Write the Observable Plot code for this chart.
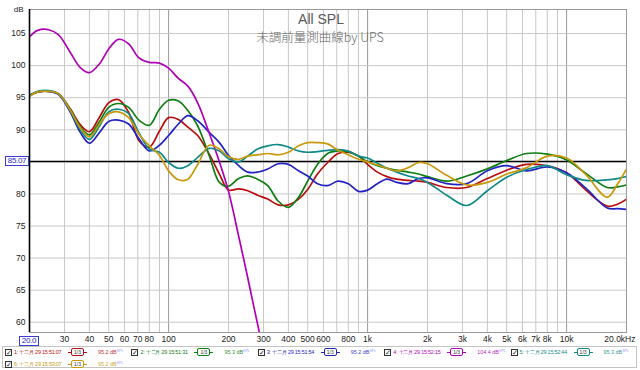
<!DOCTYPE html>
<html><head><meta charset="utf-8">
<script src="https://cdn.jsdelivr.net/npm/d3@7"></script>
<script src="https://cdn.jsdelivr.net/npm/@observablehq/plot@0.6"></script>
<style>
body{margin:0;background:#fff;font-family:"Liberation Sans",Arial,sans-serif;}
#wrap{position:relative;width:640px;height:370px;overflow:hidden;background:#fff;}
#wrap svg{position:absolute;left:0;top:0;}
.ov{position:absolute;box-sizing:border-box;font-family:"Liberation Sans",Arial,sans-serif;font-size:8px;letter-spacing:-0.3px;color:#2828c8;border:1px solid #3a3ad0;background:#fff;text-align:center;line-height:8px;white-space:nowrap;overflow:visible;}
#legend{position:absolute;left:2px;top:346px;width:635px;height:22px;box-sizing:border-box;border:1px solid #c4c4c4;background:#fff;}
.entry{position:absolute;height:9px;}
.entry span{position:absolute;white-space:nowrap;}
.cb{left:0;top:0;width:7px;height:7px;box-sizing:border-box;border:1px solid #333;background:#fff;font-size:7px;line-height:5px;color:#222;text-align:center;}
.nm{left:9px;top:0;font-size:5.4px;line-height:7px;letter-spacing:-0.2px;}
.sm{left:66px;top:-1px;width:13px;height:8px;box-sizing:border-box;border:1px solid;border-radius:2px;font-size:5px;line-height:6px;text-align:center;color:#333;background:#fff;}
.dl{top:3px;width:3px;height:1px;}
.lv{left:93px;top:0;font-size:5.4px;line-height:7px;}
.lv sup{font-size:3.6px;color:#8a8aff;vertical-align:top;line-height:4px;}
</style></head><body><div id="wrap"></div>
<script>
// ---- data ----
const freqs = [20,22,25,28,32,36,40,45,50,56,63,71,80,90,100,112,125,140,160,180,200,225,250,280,315,355,400,450,500,560,630,710,800,900,1000,1120,1250,1400,1600,1800,2000,2500,3150,4000,5000,6300,8000,10000,12500,16000,18000,20000];

const seriesIds = ["1","2","3","4","5","6"];
const seriesColors = ["#b80d0d","#0e7d12","#2323c4","#b000b4","#108a88","#c8980a"];

const m1 = [95.3,95.9,96.0,95.6,93.3,90.8,89.7,92.0,94.2,94.7,
  92.7,88.3,87.3,89.8,91.9,91.6,90.4,89.1,86.2,83.1,
  80.6,80.8,80.5,79.8,79.2,78.3,78.3,79.2,80.7,83.1,
  84.9,86.3,86.5,85.9,84.6,83.4,82.7,82.3,82.1,82.0,
  81.8,81.0,81.0,82.4,83.7,84.6,84.4,83.3,80.6,78.1,
  78.4,79.2];
const m2 = [95.3,95.9,96.0,95.6,93.2,90.5,89.2,91.3,93.5,94.1,
  93.5,91.5,90.7,93.2,94.6,94.5,93.0,90.6,86.0,81.8,
  81.2,82.4,82.8,82.3,81.3,78.9,77.9,79.5,82.0,84.6,
  86.3,86.7,86.6,85.9,85.0,84.4,84.0,83.7,83.4,83.1,
  82.7,82.0,82.8,83.9,85.2,86.3,86.2,85.3,83.2,81.0,
  81.1,81.4];
const m3 = [95.3,95.9,96.0,95.5,92.8,89.6,87.9,89.6,91.3,91.5,
  90.9,88.6,86.7,87.6,89.1,90.9,92.2,91.4,89.6,88.0,
  86.0,84.4,83.4,83.4,83.9,84.7,84.6,83.6,82.8,81.6,
  81.3,82.0,81.6,80.4,80.6,81.6,82.3,81.8,81.6,82.4,
  82.5,81.6,81.6,83.6,84.4,83.6,84.2,83.3,80.9,77.8,
  77.7,77.6];
const m4 = [104.5,105.5,105.6,104.8,102.1,99.7,98.9,100.3,102.6,104.1,
  103.4,101.2,100.5,100.4,99.6,98.0,96.8,94.2,89.5,85.0,
  80.4,73.4,66.9,59.7,52.4,null,null,null,null,null,
  null,null,null,null,null,null,null,null,null,null,
  null,null,null,null,null,null,null,null,null,null,
  null,null];
const m5 = [95.4,96.0,96.1,95.6,93.0,90.0,88.5,90.6,92.8,93.2,
  92.5,89.5,87.0,86.5,84.9,84.0,84.4,85.7,87.1,86.7,
  85.5,85.0,85.9,87.0,87.5,87.7,87.3,86.7,86.5,86.6,
  86.8,86.9,86.7,85.9,85.6,84.8,84.0,83.4,82.8,82.4,
  81.8,79.8,78.2,80.5,82.6,83.8,84.4,83.0,82.1,82.2,
  82.4,82.7];
const m6 = [95.2,95.9,96.0,95.6,93.1,90.3,88.9,90.9,92.5,92.8,
  91.9,89.3,87.5,86.0,83.6,82.2,82.3,84.6,87.6,87.0,
  85.8,85.4,85.9,86.1,86.3,86.1,86.5,87.5,88.0,88.0,
  87.8,86.8,86.1,85.4,85.0,84.5,84.0,83.6,84.1,84.9,
  84.7,82.9,81.4,81.8,83.1,84.1,85.9,85.6,83.0,79.5,
  81.5,83.9];
const seriesValues = [m1,m2,m3,m4,m5,m6];

const xTicks = [20,30,40,50,60,70,80,100,200,300,400,500,600,800,1000,2000,3000,4000,5000,6000,7000,8000,10000,20000];
const xTickLabels = ["20.0","30","40","50","60","70","80","100","200","300","400","500","600","800","1k","2k","3k","4k","5k","6k","7k","8k","10k","20.0kHz"];
const xGrid = [30,40,50,60,70,80,90,200,300,400,500,600,700,800,900,2000,3000,4000,5000,6000,7000,8000,9000];
const xMajor = [100,1000,10000];
const yGrid = [60,65,70,75,80,85,90,95,100,105];
const yTickLabels = [60,65,70,75,80,90,95,100,105];
const refLevel = 85.07;
const titleText = "All SPL";
const subtitleText = "未調前量測曲線by UPS";
const legendNames = ["1: 十二月 29 15:51:07","2: 十二月 29 15:51:31","3: 十二月 29 15:51:54","4: 十二月 29 15:52:15","5: 十二月 29 15:52:44","6: 十二月 29 15:53:07"];
const legendLevels = ["95.2 dB","95.3 dB","95.2 dB","104.4 dB","95.3 dB","95.2 dB"];
const smoothing = "1/3";

// ---- build ----
const rows = [];
seriesIds.forEach((id, k) => {
  seriesValues[k].forEach((v, i) => { if (v != null) rows.push({id, f: freqs[i], db: v}); });
});
const xLab = xTicks.map((v, i) => ({v, t: xTickLabels[i]}));
const font = '"Liberation Sans",Arial,sans-serif';

const chart = Plot.plot({
  width: 640, height: 346,
  marginLeft: 29, marginRight: 14, marginTop: 9, marginBottom: 14,
  style: {fontFamily: font, fontSize: "8.5px", color: "#222", background: "transparent", overflow: "visible"},
  x: {type: "log", domain: [20, 20000], axis: null},
  y: {domain: [58.4, 108.75], axis: null},
  color: {domain: seriesIds, range: seriesColors},
  marks: [
    Plot.ruleX(xGrid, {stroke: "#c8c8c8", strokeWidth: 1}),
    Plot.ruleX(xMajor, {stroke: "#999", strokeWidth: 1}),
    Plot.ruleY(yGrid, {stroke: "#c8c8c8", strokeWidth: 1}),
    Plot.frame({stroke: "#999"}),
    Plot.ruleY([refLevel], {stroke: "#000", strokeWidth: 1.5}),
    Plot.line(rows, {x: "f", y: "db", z: "id", stroke: "id", curve: "catmull-rom", strokeWidth: 1.7, clip: true}),
    Plot.ruleX([20], {stroke: "#000", strokeWidth: 1.6}),
    Plot.text(yTickLabels, {y: d => d, text: d => String(d), frameAnchor: "left", dx: -4, textAnchor: "end", fill: "#222", fontSize: 8.5}),
    Plot.text(["dB"], {text: d => d, frameAnchor: "top-left", dx: -6, dy: -3, textAnchor: "end", fill: "#222", fontSize: 8}),
    Plot.text(xLab.slice(1, -1), {x: "v", text: "t", frameAnchor: "bottom", dy: 9, fill: "#222", fontSize: 8.5}),
    Plot.text(xLab.slice(-1), {x: "v", text: "t", frameAnchor: "bottom", dy: 9, dx: 9, textAnchor: "end", fill: "#222", fontSize: 8.5}),
    Plot.text([titleText], {text: d => d, frameAnchor: "top", dx: -7, dy: 5, fill: "#5a5a5a", fontSize: 14, fontFamily: '"Liberation Sans",Arial,sans-serif'}),
    Plot.text([subtitleText], {text: d => d, frameAnchor: "top", dx: -8, dy: 24, fill: "#6a6a6a", fontSize: 12.5, fontFamily: '"Noto Sans CJK TC","Liberation Sans",sans-serif', fontWeight: 300})
  ]
});

const wrap = document.getElementById("wrap");
wrap.appendChild(chart);

const sx = chart.scale("x"), sy = chart.scale("y");
// boxed reference level label
const ref = document.createElement("div");
ref.className = "ov";
ref.textContent = refLevel.toFixed(2);
const ry = sy.apply(refLevel);
Object.assign(ref.style, {left: "5px", top: (ry - 5) + "px", width: "24px", height: "10px"});
wrap.appendChild(ref);
// boxed first x tick label
const x0 = document.createElement("div");
x0.className = "ov";
x0.textContent = xTickLabels[0];
const px0 = sx.apply(xTicks[0]);
Object.assign(x0.style, {left: (px0 - 10) + "px", top: "336px", width: "20px", height: "10px"});
wrap.appendChild(x0);

// legend
const leg = document.createElement("div");
leg.id = "legend";
wrap.appendChild(leg);
legendNames.forEach((name, k) => {
  const col = k < 5 ? k : 0, row = k < 5 ? 0 : 1;
  const e = document.createElement("div");
  e.className = "entry";
  e.style.left = (2 + col * 126.4) + "px";
  e.style.top = (2 + row * 12) + "px";
  const c = seriesColors[k];
  e.innerHTML =
    `<span class="cb">✓</span>` +
    `<span class="nm" style="color:${c}">${name}</span>` +
    `<span class="dl" style="left:63px;background:${c}"></span>` +
    `<span class="sm" style="border-color:${c}">${smoothing}</span>` +
    `<span class="dl" style="left:79px;background:${c}"></span>` +
    `<span class="lv" style="color:${c};opacity:0.85">${legendLevels[k]}<sup>SPL</sup></span>`;
  leg.appendChild(e);
});
</script></body></html>
